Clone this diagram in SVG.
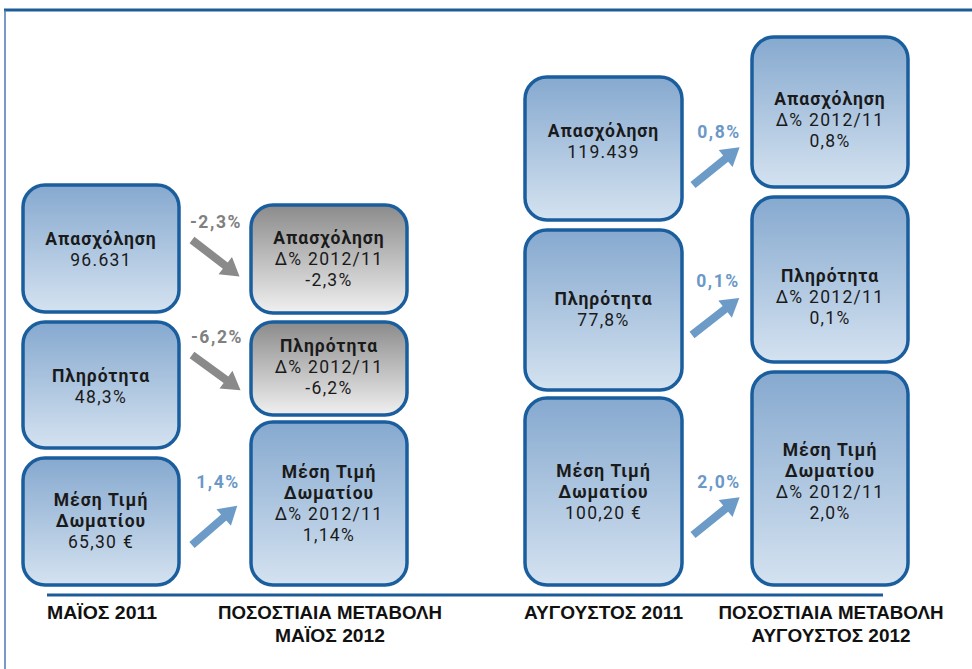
<svg xmlns="http://www.w3.org/2000/svg" xmlns:xlink="http://www.w3.org/1999/xlink" width="972" height="669" viewBox="0 0 972 669">
<defs>
<linearGradient id="gBlue" x1="0" y1="0" x2="0" y2="1">
<stop offset="0" stop-color="#86a9cf"/>
<stop offset="1" stop-color="#d4e2f0"/>
</linearGradient>
<linearGradient id="gGray" x1="0" y1="0" x2="0" y2="1">
<stop offset="0" stop-color="#8b8b8b"/>
<stop offset="1" stop-color="#f0f0f0"/>
</linearGradient>
<path id="arrow" d="M0,-4 L42,-4 L42,-11 L60,0 L42,11 L42,4 L0,4 Z"/>
</defs>
<style>
.box{fill:url(#gBlue);stroke:#1b5e9e;stroke-width:3.5}
.gbox{fill:url(#gGray);stroke:#1b5e9e;stroke-width:3.5}
text{font-family:Roboto,"Noto Sans","DejaVu Sans",sans-serif;font-size:17.5px;fill:#1a1a1a;text-anchor:middle;letter-spacing:1.3px}
.b{font-weight:bold;letter-spacing:1px}
.lg{font-weight:bold;fill:#808080;letter-spacing:1.6px}
.lb{font-weight:bold;fill:#6b98c7;letter-spacing:1.6px}
.ag{fill:#8a8a8a}
.ab{fill:#6d9bc8}
.cap{font-family:"Liberation Sans",Arial,sans-serif;font-weight:bold;font-size:19px;fill:#111;letter-spacing:0}
.frame{stroke:#1e5c99;fill:none}
</style>
<rect width="972" height="669" fill="#ffffff"/>
<g id="frame">
<line class="frame" x1="4" y1="10" x2="972" y2="10" stroke-width="3"/>
<line class="frame" x1="5" y1="10" x2="5" y2="669" stroke-width="1.5" style="stroke:#4a7bb0"/>
<line class="frame" x1="47" y1="595" x2="883" y2="595" stroke-width="3"/>
</g>
<g id="may2011-employment">
<rect class="box" x="23" y="185" width="156" height="127" rx="22"/>
<text class="b" x="101" y="245">Απασχόληση</text>
<text x="101" y="266">96.631</text>
</g>
<g id="may2011-occupancy">
<rect class="box" x="23" y="322" width="156" height="126" rx="22"/>
<text class="b" x="101" y="382">Πληρότητα</text>
<text x="101" y="403">48,3%</text>
</g>
<g id="may2011-price">
<rect class="box" x="23" y="458" width="156" height="127" rx="22"/>
<text class="b" x="101" y="506">Μέση Τιμή</text>
<text class="b" x="101" y="527">Δωματίου</text>
<text x="101" y="548">65,30 €</text>
</g>
<g id="may2012-employment">
<rect class="gbox" x="251" y="205" width="156" height="108" rx="22"/>
<text class="b" x="329" y="244">Απασχόληση</text>
<text x="329" y="265">Δ% 2012/11</text>
<text x="329" y="286">-2,3%</text>
</g>
<g id="may2012-occupancy">
<rect class="gbox" x="251" y="322" width="156" height="93" rx="22"/>
<text class="b" x="329" y="352">Πληρότητα</text>
<text x="329" y="373">Δ% 2012/11</text>
<text x="329" y="394">-6,2%</text>
</g>
<g id="may2012-price">
<rect class="box" x="251" y="422" width="156" height="163" rx="22"/>
<text class="b" x="329" y="478">Μέση Τιμή</text>
<text class="b" x="329" y="499">Δωματίου</text>
<text x="329" y="520">Δ% 2012/11</text>
<text x="329" y="541">1,14%</text>
</g>
<g id="aug2011-employment">
<rect class="box" x="525" y="77" width="157" height="143" rx="22"/>
<text class="b" x="603.5" y="137">Απασχόληση</text>
<text x="603.5" y="158">119.439</text>
</g>
<g id="aug2011-occupancy">
<rect class="box" x="525" y="230" width="157" height="160" rx="22"/>
<text class="b" x="603.5" y="305">Πληρότητα</text>
<text x="603.5" y="326">77,8%</text>
</g>
<g id="aug2011-price">
<rect class="box" x="525" y="398" width="157" height="187" rx="22"/>
<text class="b" x="603.5" y="477">Μέση Τιμή</text>
<text class="b" x="603.5" y="498">Δωματίου</text>
<text x="603.5" y="519">100,20 €</text>
</g>
<g id="aug2012-employment">
<rect class="box" x="752" y="37" width="156" height="150" rx="22"/>
<text class="b" x="830" y="105">Απασχόληση</text>
<text x="830" y="126">Δ% 2012/11</text>
<text x="830" y="147">0,8%</text>
</g>
<g id="aug2012-occupancy">
<rect class="box" x="752" y="197" width="156" height="165" rx="22"/>
<text class="b" x="830" y="282">Πληρότητα</text>
<text x="830" y="303">Δ% 2012/11</text>
<text x="830" y="324">0,1%</text>
</g>
<g id="aug2012-price">
<rect class="box" x="752" y="372" width="156" height="213" rx="22"/>
<text class="b" x="830" y="456">Μέση Τιμή</text>
<text class="b" x="830" y="477">Δωματίου</text>
<text x="830" y="498">Δ% 2012/11</text>
<text x="830" y="519">2,0%</text>
</g>
<g id="connectors">
<use xlink:href="#arrow" class="ag" transform="translate(192,240) rotate(37.6)"/>
<use xlink:href="#arrow" class="ag" transform="translate(192,355) rotate(36)"/>
<use xlink:href="#arrow" class="ab" transform="translate(192,545) rotate(-41)"/>
<use xlink:href="#arrow" class="ab" transform="translate(693,185) rotate(-39)"/>
<use xlink:href="#arrow" class="ab" transform="translate(692,335) rotate(-38)"/>
<use xlink:href="#arrow" class="ab" transform="translate(693,535) rotate(-39)"/>
<text class="lg" x="216" y="228">-2,3%</text>
<text class="lg" x="217" y="343">-6,2%</text>
<text class="lb" x="218" y="488">1,4%</text>
<text class="lb" x="719" y="138">0,8%</text>
<text class="lb" x="718" y="287">0,1%</text>
<text class="lb" x="719" y="488">2,0%</text>
</g>
<g id="captions">
<text class="cap" x="102" y="619" textLength="110" lengthAdjust="spacingAndGlyphs">ΜΑΪΟΣ 2011</text>
<text class="cap" x="330" y="619" textLength="224" lengthAdjust="spacingAndGlyphs">ΠΟΣΟΣΤΙΑΙΑ ΜΕΤΑΒΟΛΗ</text>
<text class="cap" x="330" y="642" textLength="110" lengthAdjust="spacingAndGlyphs">ΜΑΪΟΣ 2012</text>
<text class="cap" x="603.5" y="619" textLength="159" lengthAdjust="spacingAndGlyphs">ΑΥΓΟΥΣΤΟΣ 2011</text>
<text class="cap" x="831" y="619" textLength="225" lengthAdjust="spacingAndGlyphs">ΠΟΣΟΣΤΙΑΙΑ ΜΕΤΑΒΟΛΗ</text>
<text class="cap" x="831" y="642" textLength="159" lengthAdjust="spacingAndGlyphs">ΑΥΓΟΥΣΤΟΣ 2012</text>
</g>
</svg>
